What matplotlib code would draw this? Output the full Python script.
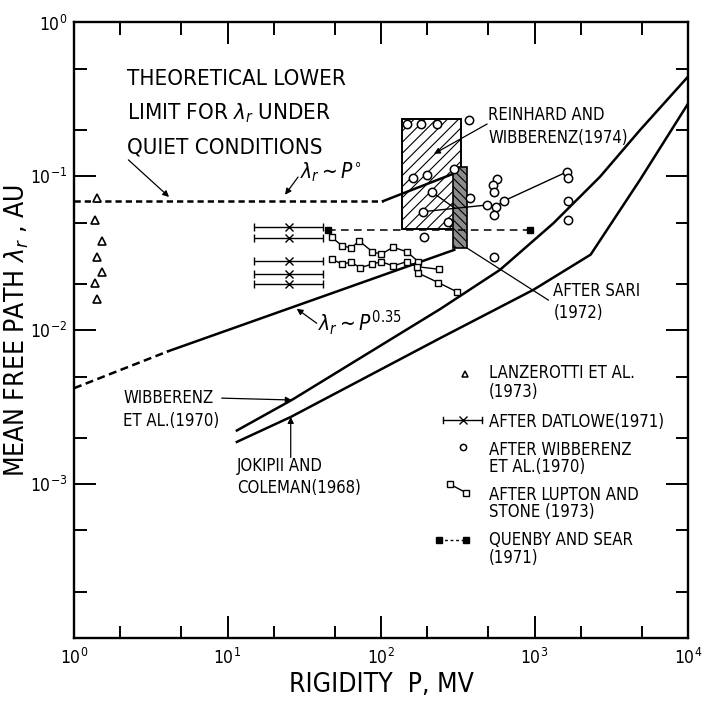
import matplotlib.pyplot as plt
from matplotlib.ticker import LogLocator, NullFormatter

plt.rcParams['font.family'] = ['DejaVu Sans']
plt.rcParams['font.stretch'] = 'condensed'
plt.rcParams['mathtext.fontset'] = 'dejavusans'
plt.rcParams['hatch.linewidth'] = 0.8

# theoretical lower limit  lambda ~ P^0  (dashed, then rising solid part)
p0_dash_P = [1, 103]
p0_dash_lam = [0.069, 0.069]
p0_solid_P = [103, 303]
p0_solid_lam = [0.069, 0.105]

# lambda ~ P^0.35
p35_dash_P = [1, 4.1]
p35_dash_lam = [0.0042, 0.0073]
p35_solid_P = [4.1, 300]
p35_solid_lam = [0.0073, 0.0333]

# Wibberenz et al. (1970) curve and Jokipii & Coleman (1968) curve
wib_P = [11.5, 26.2, 242, 596, 1327, 2672, 4865, 10000]
wib_lam = [0.00223, 0.00352, 0.0137, 0.0247, 0.0496, 0.0995, 0.200, 0.445]
jok_P = [11.5, 25.8, 242, 982, 2320, 4865, 10000]
jok_lam = [0.00188, 0.00273, 0.00887, 0.0183, 0.031, 0.095, 0.297]

# Reinhard and Wibberenz (1974) box, Sari (1972) band
reinhard_P = [136, 332]
reinhard_lam = [0.0453, 0.235]
sari_P = [293, 365]
sari_lam = [0.0343, 0.115]

# Lanzerotti et al. (1973)
lanz_P = [1.41, 1.37, 1.52, 1.41, 1.53, 1.37, 1.41]
lanz_lam = [0.0721, 0.0521, 0.0382, 0.0301, 0.0238, 0.0202, 0.0159]

# Datlowe (1971)
datl_P = 25.3
datl_lo, datl_hi = 14.9, 42.1
datl_lam = [0.0467, 0.0396, 0.0283, 0.0232, 0.0199]

# Wibberenz et al. (1970) points
wibpt_P = [147, 181, 231, 376, 162, 200, 299, 216, 380, 189, 274, 191,
           567, 534, 547, 493, 561, 636, 545, 1636, 1660, 1660, 1660, 545]
wibpt_lam = [0.219, 0.219, 0.219, 0.2325, 0.0972, 0.102, 0.111, 0.0788, 0.0721,
             0.0590, 0.0508, 0.0406, 0.0962, 0.0879, 0.0788, 0.0652, 0.0636,
             0.0695, 0.0561, 0.1073, 0.0972, 0.0695, 0.0521, 0.0298]
wibline_P = [189, 493, 561, 636, 1636]
wibline_lam = [0.0590, 0.0652, 0.0636, 0.0695, 0.1073]
wibline2_P = [216, 303]
wibline2_lam = [0.0788, 0.062]

# Lupton and Stone (1973), two chains
lup1_P = [47.7, 55.5, 63.8, 72.2, 87.7, 100, 120, 147, 175, 175, 236, 311]
lup1_lam = [0.0402, 0.0355, 0.0343, 0.0380, 0.0324, 0.0312, 0.0346, 0.0324,
            0.0279, 0.0235, 0.0204, 0.0178]
lup2_P = [47.7, 55.5, 63.8, 73.0, 87.7, 100, 120, 147, 171, 239]
lup2_lam = [0.0291, 0.0269, 0.0277, 0.0255, 0.0269, 0.0279, 0.0262, 0.0279,
            0.0259, 0.0249]

# Quenby and Sear (1971)
quen_P = [45.2, 935]
quen_lam = [0.0449, 0.0449]

fig = plt.figure(figsize=(7.07, 7.03), dpi=100)
ax = fig.add_axes([0.1047, 0.0925, 0.8685, 0.8755])
ax.set_xscale('log')
ax.set_yscale('log')
ax.set_xlim(1, 1e4)
ax.set_ylim(1e-4, 1)

ax.xaxis.set_major_locator(LogLocator(base=10, numticks=10))
ax.set_yticks([1e-3, 1e-2, 1e-1, 1])
for a in (ax.xaxis, ax.yaxis):
    a.set_minor_locator(LogLocator(base=10, subs=(2, 5), numticks=10))
    a.set_minor_formatter(NullFormatter())
ax.tick_params(which='both', direction='in', top=True, right=True, width=1.4)
ax.tick_params(which='major', length=16, labelsize=12.5)
ax.tick_params(which='minor', length=9)
ax.tick_params(axis='x', pad=7)
ax.tick_params(axis='y', pad=5)
for s in ax.spines.values():
    s.set_linewidth(1.7)


def lines(x, y, txt, dy=13.2, size=12, coords='data'):
    # one text per line, baselines dy points apart
    for i, s in enumerate(txt.split('\n')):
        ax.annotate(s, (x, y), xycoords=coords, xytext=(0, -i * dy),
                    textcoords='offset points', fontsize=size,
                    va='baseline', ha='left')


thick = 1.8
ax.plot(p0_dash_P, p0_dash_lam, color='k', lw=thick, ls=(0, (2.5, 1.6)))
ax.plot(p0_solid_P, p0_solid_lam, color='k', lw=thick)
ax.plot(p35_dash_P, p35_dash_lam, color='k', lw=thick, ls=(0, (3.2, 1.8)))
ax.plot(p35_solid_P, p35_solid_lam, color='k', lw=thick)
ax.plot(wib_P, wib_lam, color='k', lw=thick)
ax.plot(jok_P, jok_lam, color='k', lw=thick)

# hatched regions
x0, x1 = reinhard_P
y0, y1 = reinhard_lam
ax.fill([x0, x1, x1, x0], [y0, y0, y1, y1], facecolor='white', edgecolor='k',
        hatch='///', lw=1.4, zorder=1)
x0, x1 = sari_P
y0, y1 = sari_lam
ax.fill([x0, x1, x1, x0], [y0, y0, y1, y1], facecolor='0.55', edgecolor='k',
        hatch='\\\\\\\\', lw=1.2, zorder=3)

ax.plot(quen_P, quen_lam, color='k', lw=1.1, ls=(0, (5, 3.5)), marker='s',
        ms=4.5, mfc='k', zorder=4)

ax.errorbar([datl_P] * len(datl_lam), datl_lam,
            xerr=[[datl_P - datl_lo] * len(datl_lam), [datl_hi - datl_P] * len(datl_lam)],
            fmt='x', color='k', ms=5.5, mew=1.0, elinewidth=1.0, capsize=3, capthick=1.0)

ax.plot(lanz_P, lanz_lam, ls='none', marker='^', ms=6, mfc='white', mec='k', mew=1.2)

ax.plot(wibline_P, wibline_lam, color='k', lw=1.0, zorder=4)
ax.plot(wibline2_P, wibline2_lam, color='k', lw=1.0, zorder=4)
ax.plot(wibpt_P, wibpt_lam, ls='none', marker='o', ms=6, mfc='white', mec='k',
        mew=1.1, zorder=5)

for lp, ll in ((lup1_P, lup1_lam), (lup2_P, lup2_lam)):
    ax.plot(lp, ll, color='k', lw=1.0, marker='s', ms=5, mfc='white', mec='k',
            mew=1.0, zorder=5)

# annotations
arrow = dict(arrowstyle='-|>', lw=0.9, color='k', shrinkA=0, shrinkB=0,
             mutation_scale=9)
lines(2.2, 0.393, 'THEORETICAL LOWER\nLIMIT FOR $\\lambda_r$ UNDER\nQUIET CONDITIONS',
      dy=24.8, size=16)
ax.annotate('', xy=(4.16, 0.0735), xytext=(2.26, 0.128), arrowprops=arrow)
ax.text(29.7, 0.0977, r'$\lambda_r\sim P^{\circ}$', fontsize=15, va='baseline')
ax.annotate('', xy=(23.7, 0.076), xytext=(28.8, 0.099), arrowprops=arrow)
ax.text(38.9, 0.0099, r'$\lambda_r\sim P^{0.35}$', fontsize=15, va='baseline')
ax.annotate('', xy=(28.2, 0.0138), xytext=(38.1, 0.0111), arrowprops=arrow)

small = 12
lines(2.1, 0.00336, 'WIBBERENZ\nET AL.(1970)', dy=16.8, size=small)
ax.annotate('', xy=(26.2, 0.00352), xytext=(9.16, 0.00362), arrowprops=arrow)
lines(11.5, 0.00122, 'JOKIPII AND\nCOLEMAN(1968)', dy=16.3, size=small)
ax.annotate('', xy=(25.8, 0.00273), xytext=(25.8, 0.00149), arrowprops=arrow)
lines(500, 0.232, 'REINHARD AND\nWIBBERENZ(1974)', dy=16.7, size=small)
ax.annotate('', xy=(221, 0.140), xytext=(491, 0.219), arrowprops=arrow)
lines(1325, 0.0167, 'AFTER SARI\n(1972)', dy=15.8, size=small)
ax.plot([352, 1230], [0.0349, 0.0157], color='k', lw=0.9)

# legend drawn by hand
tr = ax.transAxes
lx = 0.676
ax.plot([0.636], [0.429], transform=tr, marker='^', ms=4.5, mfc='white', mec='k', mew=1.1)
lines(lx, 0.4219, 'LANZEROTTI ET AL.\n(1973)', size=small, coords='axes fraction')
ax.plot([0.6015, 0.664], [0.3542, 0.3542], transform=tr, color='k', lw=1.0)
ax.plot([0.6015, 0.6015], [0.3487, 0.3597], transform=tr, color='k', lw=1.0)
ax.plot([0.664, 0.664], [0.3487, 0.3597], transform=tr, color='k', lw=1.0)
ax.plot([0.634], [0.3542], transform=tr, marker='x', ms=5.5, color='k', mew=1.0)
lines(lx, 0.3433, 'AFTER DATLOWE(1971)', size=small, coords='axes fraction')
ax.plot([0.634], [0.3108], transform=tr, marker='o', ms=4.5, mfc='white', mec='k', mew=1.1)
lines(lx, 0.2973, 'AFTER WIBBERENZ\nET AL.(1970)', dy=12.2, size=small,
      coords='axes fraction')
ax.plot([0.6124, 0.6384], [0.2497, 0.2361], transform=tr, color='k', lw=1.0,
        marker='s', ms=4.5, mfc='white', mec='k', mew=1.0)
lines(lx, 0.2242, 'AFTER LUPTON AND\nSTONE (1973)', dy=12.2, size=small,
      coords='axes fraction')
ax.plot([0.595, 0.6384], [0.1592, 0.1592], transform=tr, color='k', lw=1.0,
        ls=(0, (2, 2)), marker='s', ms=4.5, mfc='k', mec='k')
lines(lx, 0.1511, 'QUENBY AND SEAR\n(1971)', size=small, coords='axes fraction')

ax.set_xlabel('RIGIDITY  P, MV', fontsize=19, labelpad=3)
ax.set_ylabel(r'MEAN FREE PATH $\lambda_r$ , AU', fontsize=19)
ax.yaxis.set_label_coords(-0.07, 0.5)

fig.savefig('out.png', dpi=100)
